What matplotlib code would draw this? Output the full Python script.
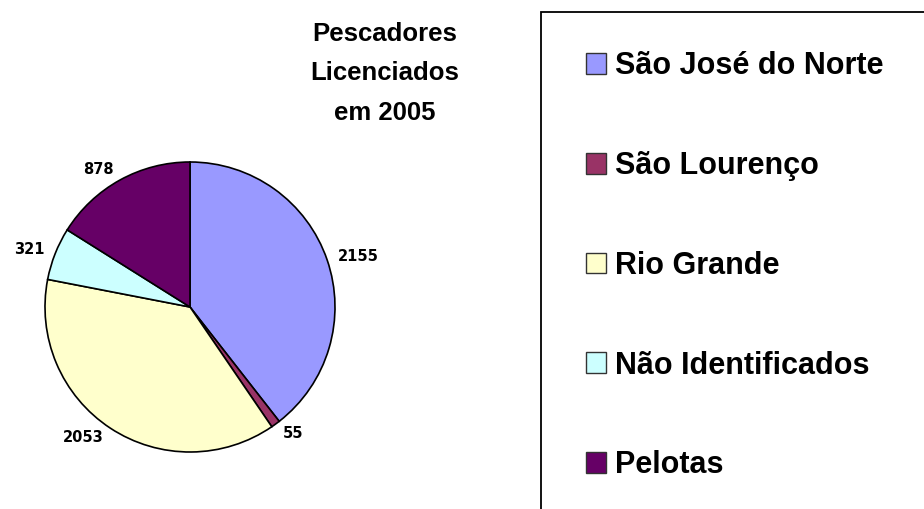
import matplotlib
matplotlib.use("Agg")
import matplotlib.pyplot as plt
from matplotlib.patches import Rectangle

plt.rcParams['font.family'] = ['Liberation Sans', 'DejaVu Sans']

# Dados
municipios = ["São José do Norte", "São Lourenço", "Rio Grande",
              "Não Identificados", "Pelotas"]
pescadores = [2155, 55, 2053, 321, 878]
cores = ["#9999FF", "#993366", "#FFFFCC", "#CCFFFF", "#660066"]
titulo = "Pescadores\nLicenciados\nem 2005"

fig = plt.figure(figsize=(9.24, 5.09), dpi=100)

# pizza: centro (190, 307) px, raio 145 px
W, H = 924, 509
cx, cy, r = 190, 307, 145
ax = fig.add_axes([(cx - r) / W, (H - cy - r) / H, 2 * r / W, 2 * r / H])
wedges, textos = ax.pie(pescadores, labels=[str(v) for v in pescadores],
                        colors=cores, startangle=90, counterclock=False,
                        labeldistance=1.08,
                        wedgeprops=dict(edgecolor="black", linewidth=1.2),
                        textprops=dict(fontsize=10.5, fontweight="bold",
                                       family="DejaVu Sans"))
ax.set_xlim(-1, 1)
ax.set_ylim(-1, 1)
ax.set_aspect("equal")

# Titulo
fig.text(385 / W, 1 - 73.5 / H, titulo, ha="center", va="center",
         fontsize=18.5, fontweight="bold", linespacing=1.83)

# Caixa da legenda
fig.patches.append(Rectangle((541 / W, -0.1), 0.6, 1 - 12 / H + 0.1,
                             transform=fig.transFigure, fill=False,
                             edgecolor="black", linewidth=1.3))

leg = fig.legend(wedges, municipios, loc="upper left",
                 bbox_to_anchor=(558 / W, 1 - 24 / H), frameon=False,
                 prop=dict(size=22, weight="bold"),
                 handlelength=0.66, handleheight=0.66, handletextpad=0.3,
                 labelspacing=2.28)
for h in leg.legend_handles:
    h.set_edgecolor("#333333")
    h.set_linewidth(1.0)

fig.savefig("out.png", dpi=100)
